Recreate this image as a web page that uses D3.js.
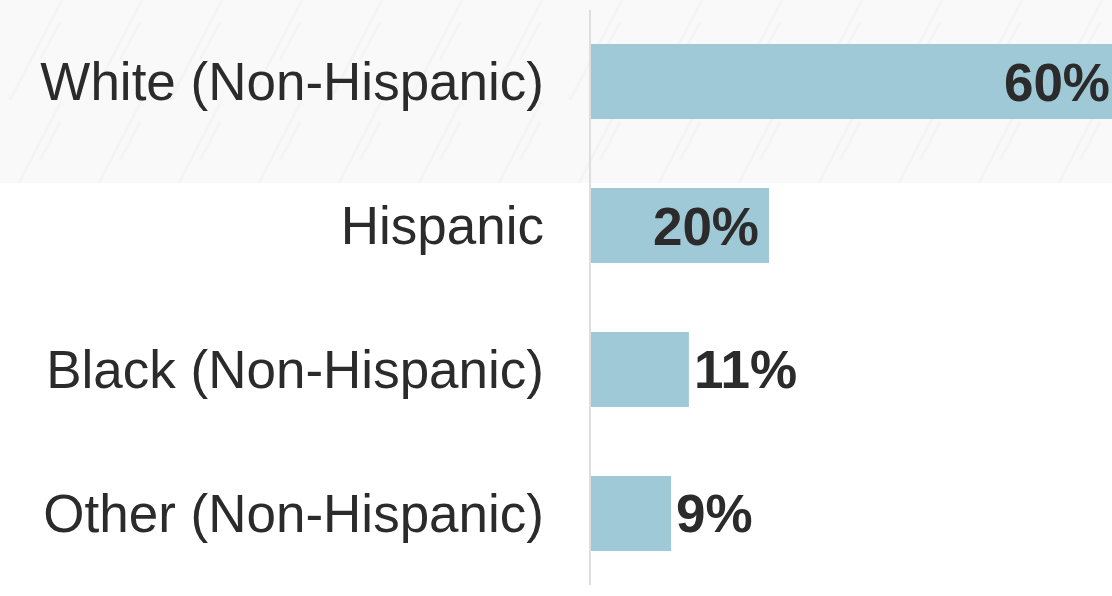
<!DOCTYPE html>
<html><head><meta charset="utf-8">
<script src="https://cdn.jsdelivr.net/npm/d3@7"></script>
<style>html,body{margin:0;padding:0;background:#fff;overflow:hidden}</style>
</head><body>
<svg id="c" width="1112" height="596"></svg>
<script>
const categories = ["White (Non-Hispanic)", "Hispanic", "Black (Non-Hispanic)", "Other (Non-Hispanic)"];
const values = [60, 20, 11, 9];
const valueLabels = ["60%", "20%", "11%", "9%"];

const W = 1112, H = 596;
const svg = d3.select("#c");
const defs = svg.append("defs");
const pat = defs.append("pattern").attr("id","diag").attr("patternUnits","userSpaceOnUse")
  .attr("width",80).attr("height",100);
pat.append("rect").attr("width",80).attr("height",100).attr("fill","#f9f9f9");
pat.append("path").attr("d","M10,100 L62,0 M-70,100 L-18,0 M90,100 L142,0 M40,60 L60,22")
  .attr("stroke","#f4f4f4").attr("stroke-width",2.5);

svg.append("rect").attr("x",0).attr("y",0).attr("width",W).attr("height",183)
  .attr("fill","url(#diag)");

const x = d3.scaleLinear().domain([0, 60]).range([591, 1125]);
const y = d3.scaleBand().domain(categories).range([8, 587]).paddingInner(0.479).paddingOuter(0.25);

// axis line
svg.append("line").attr("x1",590).attr("x2",590).attr("y1",10).attr("y2",585)
  .attr("stroke","#dedede").attr("stroke-width",2);

svg.selectAll("rect.bar").data(categories).join("rect").attr("class","bar")
  .attr("x", x(0)).attr("y", d => y(d)).attr("width", (d,i) => x(values[i]) - x(0))
  .attr("height", y.bandwidth()).attr("fill", "#a0c9d7");

svg.selectAll("text.cat").data(categories).join("text").attr("class","cat")
  .attr("x", 544).attr("y", d => y(d) + y.bandwidth()/2 + 18.5)
  .attr("text-anchor","end").attr("font-family","Liberation Sans, Arial, sans-serif")
  .attr("font-size", 53).attr("fill","#2b2b2b").text(d => d);

svg.selectAll("text.val").data(categories).join("text").attr("class","val")
  .attr("x", (d,i) => values[i] >= 15 ? Math.min(x(values[i]) - 10, 1110) : x(values[i]) + 5)
  .attr("y", d => y(d) + y.bandwidth()/2 + 19)
  .attr("text-anchor", (d,i) => values[i] >= 15 ? "end" : "start")
  .attr("font-family","Liberation Sans, Arial, sans-serif").attr("font-weight","bold")
  .attr("font-size", 53).attr("fill","#2b2b2b").text((d,i) => valueLabels[i]);
</script>
</body></html>
